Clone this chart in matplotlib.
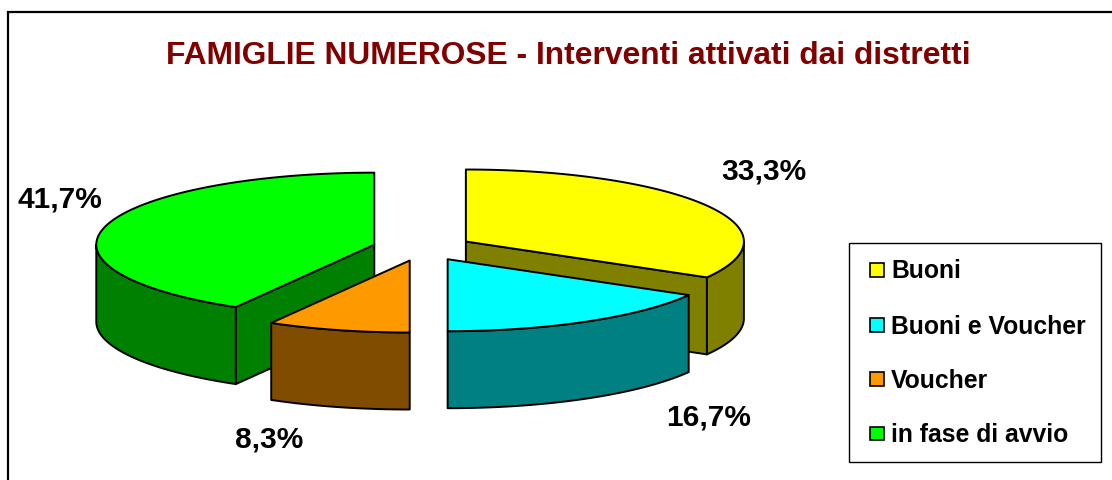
import numpy as np
import matplotlib
matplotlib.use("Agg")
import matplotlib.pyplot as plt
from matplotlib.patches import Polygon, Rectangle

title = "FAMIGLIE NUMEROSE - Interventi attivati dai distretti"
categories = ["Buoni", "Buoni e Voucher", "Voucher", "in fase di avvio"]
values = [33.3, 16.7, 8.3, 41.7]
top_colors = ["#FFFF00", "#00FFFF", "#FF9900", "#00FF00"]
side_colors = ["#808000", "#008080", "#804C00", "#008000"]
label_pos = [(764, 171), (709, 417), (269, 439), (60, 199)]
legend_y = [270, 325, 379, 433.5]

W, H = 1112, 480
CX, CY, RX, RY, DEPTH = 422.6, 248.0, 278.0, 72.0, 77.0
EXPLODE = 50.0
INK = "#000000"
LW = 1.4

plt.rcParams["font.family"] = ["Liberation Sans", "DejaVu Sans"]
fig = plt.figure(figsize=(W / 100, H / 100), dpi=100, facecolor="white")
ax = fig.add_axes([0, 0, 1, 1])
ax.set_xlim(0, W)
ax.set_ylim(H, 0)
ax.axis("off")

ax.plot([8, 8, W], [H, 12, 12], color="black", lw=1.6, solid_joinstyle="miter")

total = sum(values)
edges = np.concatenate([[0], np.cumsum(values)]) / total * 2 * np.pi


def arc(a0, a1, ox, oy):
    t = np.linspace(a0, a1, 160)
    return np.column_stack([ox + RX * np.sin(t), oy - RY * np.cos(t)])


def draw_wedge(i, z):
    a0, a1 = edges[i], edges[i + 1]
    mid = (a0 + a1) / 2
    ox = CX + EXPLODE * np.sin(mid)
    oy = CY - EXPLODE * RY / RX * np.cos(mid)
    apex = np.array([ox, oy])
    down = np.array([0, DEPTH])
    kw = dict(facecolor=side_colors[i], edgecolor=INK, lw=LW, joinstyle="round", zorder=z)
    # cut face turned towards the viewer
    if np.pi / 2 < a1 < np.pi:
        p = arc(a1, a1, ox, oy)[0]
        ax.add_patch(Polygon([apex, p, p + down, apex + down], **kw))
    if np.pi < a0 < 1.5 * np.pi:
        p = arc(a0, a0, ox, oy)[0]
        ax.add_patch(Polygon([apex, p, p + down, apex + down], **kw))
    # outer wall
    w0, w1 = max(a0, np.pi / 2), min(a1, 1.5 * np.pi)
    if w1 > w0:
        rim = arc(w0, w1, ox, oy)
        ax.add_patch(Polygon(np.vstack([rim, (rim + down)[::-1]]), **kw))
    # top face
    ax.add_patch(Polygon(np.vstack([[apex], arc(a0, a1, ox, oy)]), facecolor=top_colors[i],
                         edgecolor=INK, lw=LW, joinstyle="round", zorder=z + 0.5))


for z, i in enumerate([3, 0, 1, 2]):
    draw_wedge(i, 2 + z)

for v, (x, y) in zip(values, label_pos):
    ax.text(x, y, f"{v:.1f}%".replace(".", ","), ha="center", va="center",
            fontsize=21.5, fontweight="bold", color="black", zorder=10)

ax.text(568, 56, title, ha="center", va="center", fontsize=22.9, fontweight="bold",
        color="#800000", zorder=10)

ax.add_patch(Rectangle((848.5, 242.5), 252.5, 219, facecolor="white", edgecolor="black", lw=1.0, zorder=8))
for name, col, y in zip(categories, top_colors, legend_y):
    ax.add_patch(Rectangle((870, y - 7), 13.5, 13.5, facecolor=col, edgecolor="black", lw=1.2, zorder=9))
    ax.text(891, y + 1.5, name, ha="left", va="center", fontsize=17.8, fontweight="bold", color="black", zorder=10)

fig.savefig("out.png", dpi=100, facecolor="white")
